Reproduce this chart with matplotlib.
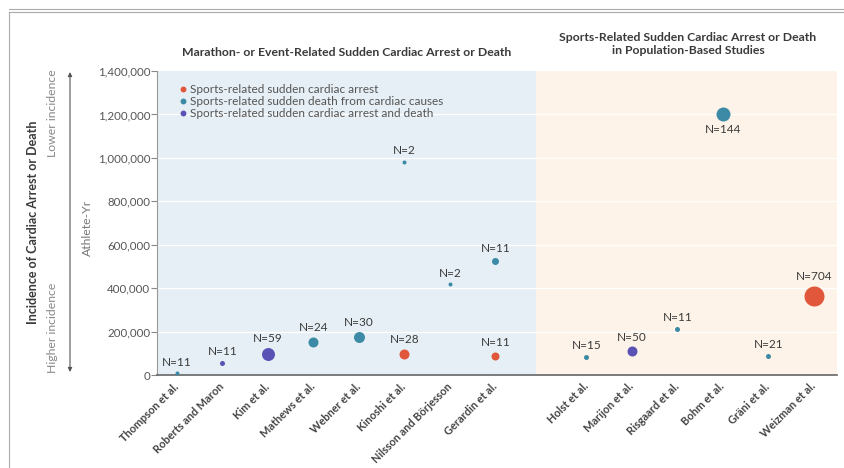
import matplotlib.pyplot as plt
from matplotlib.lines import Line2D
import numpy as np

plt.rcParams['font.family'] = ['Lato', 'DejaVu Sans']

# --- data ---
studies = ["Thompson et al.", "Roberts and Maron", "Kim et al.", "Mathews et al.",
           "Webner et al.", "Kinoshi et al.", "Nilsson and Börjesson", "Gerardin et al.",
           "Holst et al.", "Marijon et al.", "Risgaard et al.", "Bohm et al.",
           "Gräni et al.", "Weizman et al."]
n_event = 8  # first 8 studies are marathon/event-related

point_study = ["Thompson et al.", "Roberts and Maron", "Kim et al.", "Mathews et al.",
               "Webner et al.", "Kinoshi et al.", "Kinoshi et al.", "Nilsson and Börjesson",
               "Gerardin et al.", "Gerardin et al.", "Holst et al.", "Marijon et al.",
               "Risgaard et al.", "Bohm et al.", "Gräni et al.", "Weizman et al."]
point_value = [7000, 55000, 97000, 153000, 174000, 97000, 983000, 418000,
               527000, 89000, 81000, 110000, 212000, 1201000, 89000, 365000]
point_kind = ["death", "both", "both", "death", "death", "arrest", "death", "death",
              "death", "arrest", "death", "both", "death", "death", "death", "arrest"]
point_n = [11, 11, 59, 24, 30, 28, 2, 2, 11, 11, 15, 50, 11, 144, 21, 704]

kind_labels = {"arrest": "Sports-related sudden cardiac arrest",
               "death": "Sports-related sudden death from cardiac causes",
               "both": "Sports-related sudden cardiac arrest and death"}

yticks = [0, 200000, 400000, 600000, 800000, 1000000, 1200000, 1400000]

# --- styling ---
colors = {"arrest": "#E0573B", "death": "#3C8AA6", "both": "#5B52B6"}
marker_px = [4, 5, 13, 10, 11, 10, 4, 4, 7, 8, 5, 10, 5, 14, 5, 20]
label_below = {"Bohm et al."}
text_col = "#3a3a3a"

fig = plt.figure(figsize=(8.45, 4.68), dpi=100)
ax = fig.add_axes([157 / 845, 1 - 375 / 468, 680 / 845, 304 / 468])

x_of = {s: (i if i < n_event else i + 1) for i, s in enumerate(studies)}
xlim = (-0.44, 14.51)
split = 7.9
ax.set_xlim(*xlim)
ax.set_ylim(0, 1400000)

ax.axvspan(xlim[0], split, color="#E6EFF5", zorder=0, lw=0)
ax.axvspan(split, xlim[1], color="#FDF3E8", zorder=0, lw=0)
for yv in yticks[1:-1]:
    ax.axhline(yv, color="white", lw=0.9, zorder=1)

px2pt = 72 / fig.dpi
for s, v, k, n, d in zip(point_study, point_value, point_kind, point_n, marker_px):
    x = x_of[s]
    r_pt = d / 2 * px2pt
    ax.scatter([x], [v], s=(d * px2pt) ** 2, color=colors[k], zorder=3, lw=0)
    if s in label_below:
        ax.annotate(f"N={n}", (x, v), xytext=(0, -(r_pt + 2)), textcoords="offset points",
                    ha="center", va="top", fontsize=8.5, color=text_col)
    else:
        ax.annotate(f"N={n}", (x, v), xytext=(0, r_pt + 2.5), textcoords="offset points",
                    ha="center", va="bottom", fontsize=8.5, color=text_col)

# axes
ax.set_yticks(yticks)
ax.set_yticklabels([f"{t:,}" for t in yticks], fontsize=8.3, color="#555555")
ax.tick_params(axis="y", length=4, color="#888888", pad=1)
ax.set_xticks([x_of[s] for s in studies])
ax.set_xticklabels(studies, rotation=45, ha="right", va="center", rotation_mode="anchor",
                   fontsize=7.9, fontweight="bold", color="#444444")
ax.tick_params(axis="x", length=0, pad=7)
for side in ("top", "right"):
    ax.spines[side].set_visible(False)
ax.spines["left"].set_color("#999999")
ax.spines["bottom"].set_color("#666666")
ax.spines["bottom"].set_linewidth(1.2)

# legend
handles = [Line2D([], [], marker="o", ls="", color=colors[k], markersize=3.2,
                  label=kind_labels[k]) for k in ("arrest", "death", "both")]
ax.legend(handles=handles, loc="upper left", bbox_to_anchor=(0.018, 0.985), frameon=False,
          fontsize=8.5, labelcolor="#555555", handletextpad=0.1, labelspacing=0.1,
          handlelength=1.0, borderpad=0.2)

# panel titles
fig.text(347 / 845, 1 - 52 / 468, "Marathon- or Event-Related Sudden Cardiac Arrest or Death",
         ha="center", va="center", fontsize=8.8, fontweight="bold", color=text_col)
fig.text(688 / 845, 1 - 44 / 468,
         "Sports-Related Sudden Cardiac Arrest or Death\nin Population-Based Studies",
         ha="center", va="center", fontsize=8.8, fontweight="bold", color=text_col,
         linespacing=1.15)

# left-side annotations
fig.text(33 / 845, 1 - 222 / 468, "Incidence of Cardiac Arrest or Death", rotation=90,
         ha="center", va="center", fontsize=9, fontweight="bold", color=text_col)
fig.text(53 / 845, 1 - 113 / 468, "Lower incidence", rotation=90, ha="center", va="center",
         fontsize=8.8, color="#888888")
fig.text(53 / 845, 1 - 328 / 468, "Higher incidence", rotation=90, ha="center", va="center",
         fontsize=8.8, color="#888888")
fig.text(87 / 845, 1 - 228 / 468, "Athlete-Yr", rotation=90, ha="center", va="center",
         fontsize=8.8, color="#777777")
fig.add_artist(plt.Annotation("", xy=(70 / 845, 1 - 72 / 468), xytext=(70 / 845, 1 - 372 / 468),
                              xycoords="figure fraction", textcoords="figure fraction",
                              arrowprops=dict(arrowstyle="<|-|>", color="#555555", lw=0.8,
                                              mutation_scale=6, shrinkA=0, shrinkB=0)))

# frame lines around the figure
for yy in (8.5, 11.5):
    fig.add_artist(Line2D([9 / 845, 1], [1 - yy / 468] * 2, transform=fig.transFigure,
                          color="#aaaaaa", lw=0.8))
fig.add_artist(Line2D([9.5 / 845] * 2, [0, 1 - 11.5 / 468], transform=fig.transFigure,
                      color="#aaaaaa", lw=0.8))

fig.savefig("out.png", dpi=100)
